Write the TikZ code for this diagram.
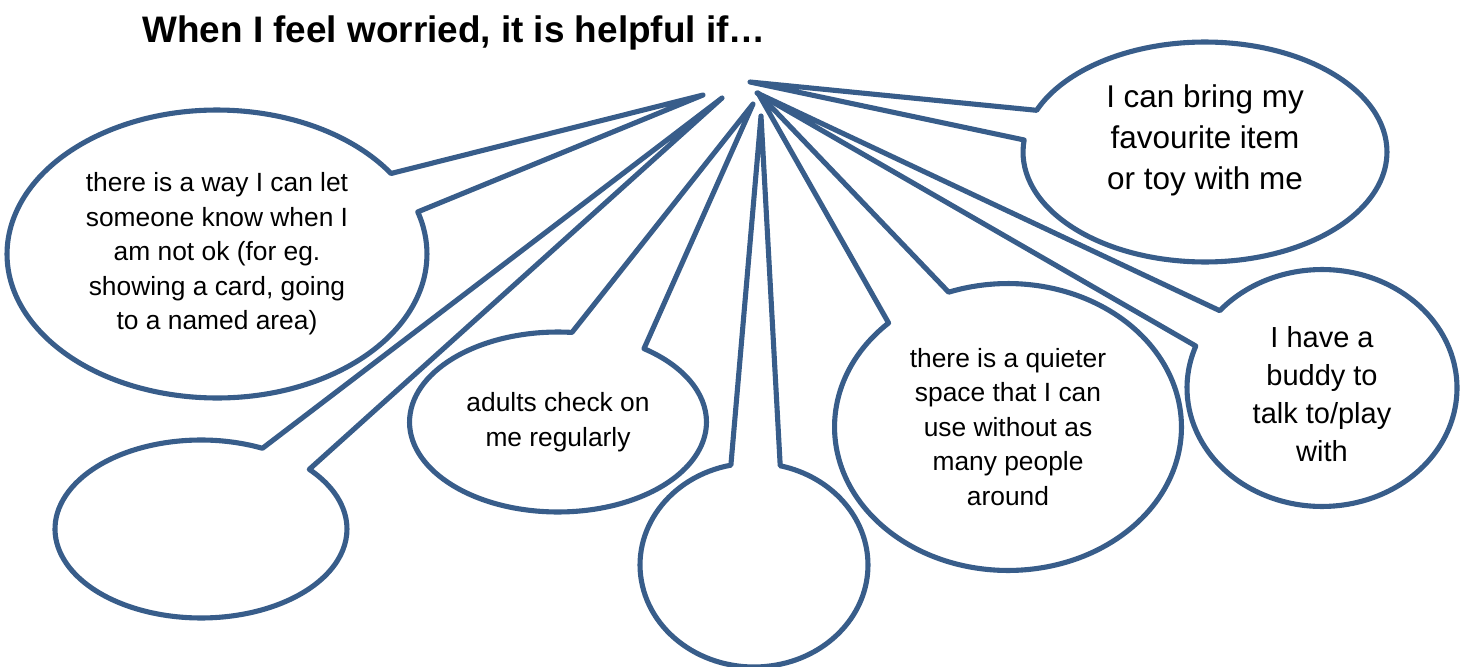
\documentclass[tikz,border=0pt]{standalone}
\usepackage{fontspec}
\setmainfont{Liberation Sans}
\usetikzlibrary{shapes.callouts}
\definecolor{bubblue}{RGB}{56,93,138}
\begin{document}
\begin{tikzpicture}[x=0.02cm,y=-0.02cm,
  bubble/.style={ellipse callout, draw=bubblue, fill=white, line width=2.9pt,
    line join=round, inner sep=0pt, outer sep=0pt, align=center, text=black,
    font=\fontsize{15}{19.6}\selectfont},
  titletext/.style={font=\bfseries\fontsize{21}{25}\selectfont, inner sep=0pt}
]
\useasboundingbox (0,0) rectangle (1469,666);

\node[titletext] (title) at (454,33) {When I feel worried, it is helpful if…};

\coordinate (tTL) at (703,95);
\coordinate (tBL) at (722,98);
\coordinate (tAD) at (753,104);
\coordinate (tMD) at (761,116);
\coordinate (tQU) at (758,93);
\coordinate (tBU) at (757,93);
\coordinate (tBR) at (750,82);

\node[bubble, minimum width=8.4cm, minimum height=5.76cm,
  callout absolute pointer={(tTL)}, callout pointer arc=17] (tl) at (217,254)
  {there is a way I can let\\someone know when I\\am not ok (for eg.\\showing a card, going\\to a named area)};

\node[bubble, minimum width=5.84cm, minimum height=3.56cm,
  callout absolute pointer={(tBL)}, callout pointer arc=23] (bl) at (201,529) {};

\node[bubble, minimum width=5.94cm, minimum height=3.6cm,
  callout absolute pointer={(tAD)}, callout pointer arc=30] (ad) at (558,422)
  {adults check on\\me regularly};

\node[bubble, minimum width=4.56cm, minimum height=4.08cm,
  callout absolute pointer={(tMD)}, callout pointer arc=25] (md) at (754,565) {};

\node[bubble, minimum width=6.94cm, minimum height=5.74cm,
  callout absolute pointer={(tQU)}, callout pointer arc=23.5] (qu) at (1008,427)
  {there is a quieter\\space that I can\\use without as\\many people\\around};

\node[bubble, minimum width=5.4cm, minimum height=4.74cm,
  font=\fontsize{16.5}{21.6}\selectfont, text height=2.94cm,
  callout absolute pointer={(tBU)}, callout pointer arc=20] (bu) at (1322,388)
  {I have a\\buddy to\\talk to/play\\with};

\node[bubble, minimum width=7.28cm, minimum height=4.4cm,
  font=\fontsize{17.9}{23.3}\selectfont, text depth=0.6cm,
  callout absolute pointer={(tBR)}, callout pointer arc=16] (br) at (1205,152)
  {I can bring my\\favourite item\\or toy with me};
\end{tikzpicture}
\end{document}
